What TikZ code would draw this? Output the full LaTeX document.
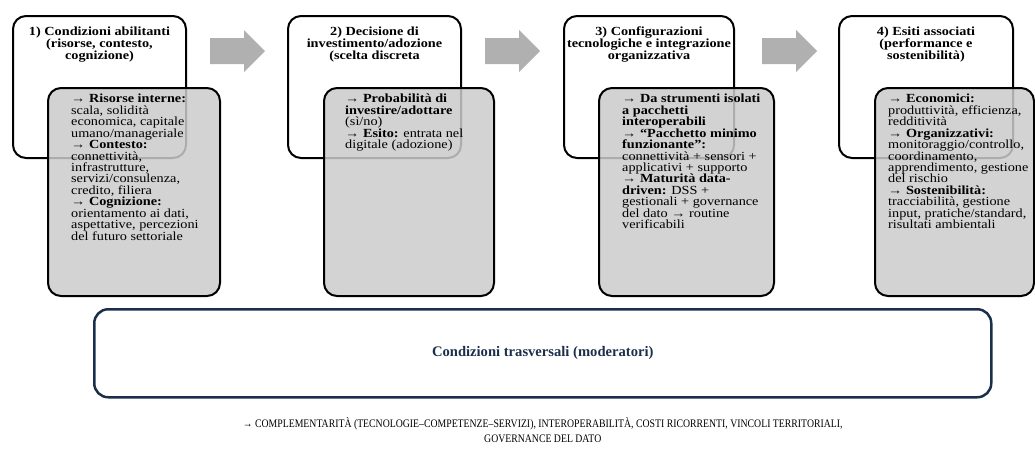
\documentclass[tikz,border=0pt]{standalone}
\usepackage{fontspec}
\setmainfont{Liberation Serif}
\newfontfamily\boxfont{Liberation Serif}[FakeStretch=1.15]
\newfontfamily\capfont{Liberation Serif}[FakeStretch=0.85]
\usepackage{tikz}
\usetikzlibrary{positioning,calc}
\definecolor{navy}{HTML}{1B2F4B}
\definecolor{panelgray}{HTML}{CBCBCB}
\definecolor{arrowgray}{HTML}{B0B0B0}

\begin{document}
\begin{tikzpicture}[x=1pt,y=-1pt,
  stagebox/.style={draw=black,line width=2pt,rounded corners=13pt,fill=white,
    minimum width=173pt,minimum height=142pt,anchor=north west,inner sep=0pt},
  detailbox/.style={draw=black,line width=2pt,rounded corners=13pt,
    fill=panelgray,fill opacity=0.85,
    minimum width=172pt,minimum height=208pt,anchor=north west,inner sep=0pt},
  headtext/.style={anchor=north,align=center,inner sep=0pt,
    font=\boxfont\fontsize{12.4}{11.6}\selectfont\bfseries},
  listtext/.style={anchor=north west,align=left,inner sep=0pt,
    font=\boxfont\fontsize{12.4}{11.45}\selectfont}]
  \useasboundingbox (0,0) rectangle (1035,448);
  % block arrows between the stages
  \foreach \x in {210,485,762}
    \fill[arrowgray] (\x,38) -- ++(34,0) -- ++(0,-8) -- ++(21,21)
      -- ++(-21,21) -- ++(0,-8) -- ++(-34,0) -- cycle;
  % stage 1
  \node[stagebox] (stage1) at (12,15) {};
  \node[headtext] (head1) at ([yshift=-12pt]stage1.north)
    {1) Condizioni abilitanti\\(risorse, contesto,\\cognizione)};
  \node[detailbox] (detail1) at (47,87) {};
  \node[listtext] (list1) at ([xshift=24pt,yshift=-7pt]detail1.north west)
    {\textbf{→ Risorse interne:}\\scala, solidità\\economica, capitale\\umano/manageriale\\
     \textbf{→ Contesto:}\\connettività,\\infrastrutture,\\servizi/consulenza,\\credito, filiera\\
     \textbf{→ Cognizione:}\\orientamento ai dati,\\aspettative, percezioni\\del futuro settoriale};
  % stage 2
  \node[stagebox] (stage2) at (287,15) {};
  \node[headtext] (head2) at ([yshift=-12pt]stage2.north)
    {2) Decisione di\\investimento/adozione\\(scelta discreta};
  \node[detailbox,minimum width=170pt] (detail2) at (323,87) {};
  \node[listtext] (list2) at ([xshift=22pt,yshift=-7pt]detail2.north west)
    {\textbf{→ Probabilità di}\\\textbf{investire/adottare}\\(sì/no)\\
     \textbf{→ Esito:} entrata nel\\digitale (adozione)};
  % stage 3
  \node[stagebox,minimum width=170pt] (stage3) at (563,15) {};
  \node[headtext] (head3) at ([yshift=-12pt]stage3.north)
    {3) Configurazioni\\tecnologiche e integrazione\\organizzativa};
  \node[detailbox,minimum width=175pt] (detail3) at (598,87) {};
  \node[listtext] (list3) at ([xshift=24pt,yshift=-7pt]detail3.north west)
    {\textbf{→ Da strumenti isolati}\\\textbf{a pacchetti}\\\textbf{interoperabili}\\
     \textbf{→ “Pacchetto minimo}\\\textbf{funzionante”:}\\connettività + sensori +\\applicativi + supporto\\
     \textbf{→ Maturità data-}\\\textbf{driven:} DSS +\\gestionali + governance\\del dato → routine\\verificabili};
  % stage 4
  \node[stagebox,minimum width=174pt] (stage4) at (838,15) {};
  \node[headtext] (head4) at ([yshift=-12pt]stage4.north)
    {4) Esiti associati\\(performance e\\sostenibilità)};
  \node[detailbox,minimum width=159pt] (detail4) at (874,87) {};
  \node[listtext] (list4) at ([xshift=14pt,yshift=-7pt]detail4.north west)
    {\textbf{→ Economici:}\\produttività, efficienza,\\redditività\\
     \textbf{→ Organizzativi:}\\monitoraggio/controllo,\\coordinamento,\\apprendimento, gestione\\del rischio\\
     \textbf{→ Sostenibilità:}\\tracciabilità, gestione\\input, pratiche/standard,\\risultati ambientali};
  % moderators
  \node[draw=navy,line width=2.5pt,rounded corners=14pt,minimum width=897pt,
    minimum height=88pt,anchor=north west,inner sep=0pt,text=navy,
    font=\fontsize{14.6}{16}\selectfont\bfseries] (moderators) at (93,308)
    {Condizioni trasversali (moderatori)};
  \node[below=32pt of moderators.south,anchor=center,align=center,inner sep=0pt,
    font=\capfont\fontsize{11.5}{15}\selectfont] (modlist)
    {→ COMPLEMENTARITÀ (TECNOLOGIE–COMPETENZE–SERVIZI), INTEROPERABILITÀ, COSTI RICORRENTI, VINCOLI TERRITORIALI,\\GOVERNANCE DEL DATO};
\end{tikzpicture}
\end{document}
